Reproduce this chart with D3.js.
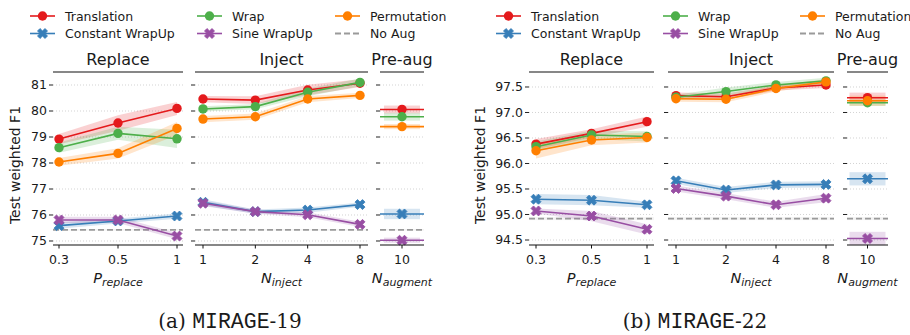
<!DOCTYPE html>
<html>
<head>
<meta charset="utf-8">
<script src="https://cdn.jsdelivr.net/npm/d3@7"></script>
<style>
  body { margin: 0; background: #fff; }
  svg text { font-family: "DejaVu Sans", sans-serif; fill: #1a1a1a; }
</style>
</head>
<body>
<svg id="chart" width="910" height="335"></svg>
<script>
// Categories
const replaceX = ['0.3', '0.5', '1'];
const injectX = ['1', '2', '4', '8'];
const augmentX = ['10'];

// Series (order used in every data array below)
const seriesNames = ['Translation', 'Wrap', 'Permutation', 'Constant WrapUp', 'Sine WrapUp'];
const seriesColors = ['#e41a1c', '#4daf4a', '#ff7f00', '#377eb8', '#984ea3'];
const seriesMarkers = ['o', 'o', 'o', 'X', 'X'];

// MIRAGE-19 : means and CI half-widths
const m19Replace = [
  [78.92, 79.54, 80.10],
  [78.59, 79.14, 78.93],
  [78.04, 78.37, 79.33],
  [75.59, 75.77, 75.96],
  [75.81, 75.81, 75.19]
];
const m19ReplaceCI = [
  [0.20, 0.30, 0.25],
  [0.20, 0.25, 0.35],
  [0.15, 0.20, 0.25],
  [0.12, 0.10, 0.10],
  [0.12, 0.12, 0.12]
];
const m19Inject = [
  [80.46, 80.42, 80.81, 81.07],
  [80.08, 80.17, 80.72, 81.10],
  [79.69, 79.78, 80.46, 80.60],
  [76.49, 76.13, 76.19, 76.40],
  [76.45, 76.13, 76.01, 75.64]
];
const m19InjectCI = [
  [0.12, 0.15, 0.20, 0.15],
  [0.10, 0.10, 0.15, 0.15],
  [0.12, 0.12, 0.12, 0.10],
  [0.12, 0.08, 0.10, 0.08],
  [0.10, 0.08, 0.10, 0.10]
];
const m19Augment = [[80.06], [79.78], [79.40], [76.04], [75.03]];
const m19AugmentCI = [[0.15], [0.15], [0.10], [0.20], [0.10]];
const m19NoAug = 75.43;
const m19Ticks = [75, 76, 77, 78, 79, 80, 81];

// MIRAGE-22 : means and CI half-widths
const m22Replace = [
  [96.38, 96.59, 96.82],
  [96.33, 96.56, 96.53],
  [96.25, 96.46, 96.51],
  [95.30, 95.28, 95.19],
  [95.07, 94.97, 94.71]
];
const m22ReplaceCI = [
  [0.10, 0.08, 0.10],
  [0.10, 0.08, 0.10],
  [0.15, 0.10, 0.10],
  [0.10, 0.10, 0.06],
  [0.05, 0.10, 0.10]
];
const m22Inject = [
  [97.33, 97.31, 97.48, 97.54],
  [97.30, 97.41, 97.54, 97.62],
  [97.27, 97.26, 97.47, 97.60],
  [95.66, 95.48, 95.58, 95.59],
  [95.51, 95.36, 95.19, 95.32]
];
const m22InjectCI = [
  [0.06, 0.06, 0.05, 0.06],
  [0.05, 0.08, 0.06, 0.06],
  [0.06, 0.06, 0.06, 0.05],
  [0.06, 0.06, 0.06, 0.06],
  [0.06, 0.06, 0.06, 0.08]
];
const m22Augment = [[97.29], [97.19], [97.23], [95.70], [94.53]];
const m22AugmentCI = [[0.10], [0.06], [0.10], [0.13], [0.13]];
const m22NoAug = 94.92;
const m22Ticks = [94.5, 95.0, 95.5, 96.0, 96.5, 97.0, 97.5];

const panelTitles = ['Replace', 'Inject', 'Pre-aug'];
const axisLabels = [['P', 'replace'], ['N', 'inject'], ['N', 'augment']];

const svg = d3.select('#chart');
const plotTop = 75, plotBottom = 245;

function drawMarker(g, kind, x, y, color) {
  if (kind === 'o') {
    g.append('circle').attr('cx', x).attr('cy', y).attr('r', 4.7).attr('fill', color);
  } else {
    g.append('path')
      .attr('d', d3.symbol(d3.symbolCross, 62)())
      .attr('transform', `translate(${x},${y}) rotate(45)`)
      .attr('fill', color)
      .attr('stroke', color)
      .attr('stroke-width', 0.8);
  }
}

function drawChart(cfg) {
  const g = svg.append('g');
  const y = d3.scaleLinear().domain(cfg.yDomain).range([plotBottom, plotTop]);

  const panels = [
    { cats: replaceX, mean: cfg.replace, ci: cfg.replaceCI, ext: cfg.panels[0] },
    { cats: injectX, mean: cfg.inject, ci: cfg.injectCI, ext: cfg.panels[1] },
    { cats: augmentX, mean: cfg.augment, ci: cfg.augmentCI, ext: cfg.panels[2] }
  ];

  panels.forEach((p, pi) => {
    const [x0, x1, pad] = p.ext;
    const single = p.cats.length === 1;
    const x = single
      ? d3.scalePoint().domain(p.cats).range([x0, x1]).padding(0.5)
      : d3.scalePoint().domain(p.cats).range([x0 + pad, x1 - pad]);

    // Gridlines + y ticks
    cfg.ticks.forEach(t => {
      g.append('line')
        .attr('x1', x0).attr('x2', x1).attr('y1', y(t)).attr('y2', y(t))
        .attr('stroke', '#c8c8c8').attr('stroke-width', 0.8).attr('stroke-dasharray', '1,2');
      g.append('line')
        .attr('x1', x0 - 4).attr('x2', x0).attr('y1', y(t)).attr('y2', y(t))
        .attr('stroke', '#222').attr('stroke-width', 1);
      if (pi === 0) {
        g.append('text')
          .attr('x', x0 - 6).attr('y', y(t)).attr('dy', '0.35em')
          .attr('text-anchor', 'end').attr('font-size', 12.5)
          .text(cfg.fmt(t));
      }
    });

    // No Aug reference
    g.append('rect')
      .attr('x', x0).attr('width', x1 - x0)
      .attr('y', y(cfg.noAug + 0.03)).attr('height', y(cfg.noAug - 0.03) - y(cfg.noAug + 0.03))
      .attr('fill', '#999').attr('opacity', 0.12);
    g.append('line')
      .attr('x1', x0).attr('x2', x1).attr('y1', y(cfg.noAug)).attr('y2', y(cfg.noAug))
      .attr('stroke', '#9a9a9a').attr('stroke-width', 1.8).attr('stroke-dasharray', '6,3');

    // Bands
    p.mean.forEach((vals, si) => {
      const color = seriesColors[si];
      if (single) {
        const cx = x(p.cats[0]);
        g.append('rect')
          .attr('x', cx - 18).attr('width', 36)
          .attr('y', y(vals[0] + p.ci[si][0]))
          .attr('height', y(vals[0] - p.ci[si][0]) - y(vals[0] + p.ci[si][0]))
          .attr('fill', color).attr('opacity', 0.2);
      } else {
        const pts = vals.map((v, i) => ({ x: x(p.cats[i]), lo: v - p.ci[si][i], hi: v + p.ci[si][i] }));
        g.append('path')
          .attr('d', d3.area().x(d => d.x).y0(d => y(d.lo)).y1(d => y(d.hi))(pts))
          .attr('fill', color).attr('opacity', 0.2);
      }
    });

    // Lines and markers
    p.mean.forEach((vals, si) => {
      const color = seriesColors[si];
      if (single) {
        g.append('line')
          .attr('x1', x0).attr('x2', x1).attr('y1', y(vals[0])).attr('y2', y(vals[0]))
          .attr('stroke', color).attr('stroke-width', 1.6);
      } else {
        const pts = vals.map((v, i) => [x(p.cats[i]), y(v)]);
        g.append('path')
          .attr('d', d3.line()(pts))
          .attr('fill', 'none').attr('stroke', color).attr('stroke-width', 1.6);
      }
      vals.forEach((v, i) => drawMarker(g, seriesMarkers[si], x(p.cats[i]), y(v), color));
    });

    // X axis
    g.append('line')
      .attr('x1', x0).attr('x2', x1).attr('y1', plotBottom).attr('y2', plotBottom)
      .attr('stroke', '#111').attr('stroke-width', 1.2);
    p.cats.forEach(c => {
      g.append('line')
        .attr('x1', x(c)).attr('x2', x(c)).attr('y1', plotBottom).attr('y2', plotBottom + 3.5)
        .attr('stroke', '#111').attr('stroke-width', 1);
      g.append('text')
        .attr('x', x(c)).attr('y', 264).attr('text-anchor', 'middle').attr('font-size', 12.5)
        .text(c);
    });
    const lab = g.append('text')
      .attr('x', (x0 + x1) / 2).attr('y', 283).attr('text-anchor', 'middle')
      .attr('font-style', 'italic');
    lab.append('tspan').attr('font-size', 14.5).text(axisLabels[pi][0]);
    lab.append('tspan').attr('font-size', 11).attr('dy', 3).text(axisLabels[pi][1]);

    // Panel title
    g.append('text')
      .attr('x', (x0 + x1) / 2).attr('y', 65).attr('text-anchor', 'middle').attr('font-size', 16)
      .text(panelTitles[pi]);
    g.append('line')
      .attr('x1', x0).attr('x2', x1).attr('y1', 72).attr('y2', 72)
      .attr('stroke', '#111').attr('stroke-width', 1.2);
  });

  // Y label
  g.append('text')
    .attr('transform', `translate(${cfg.ylabelX},${(plotTop + plotBottom) / 2 + 5}) rotate(-90)`)
    .attr('text-anchor', 'middle').attr('font-size', 14)
    .text('Test weighted F1');

  // Legend
  const legendItems = [
    { name: 'Translation', si: 0 }, { name: 'Constant WrapUp', si: 3 },
    { name: 'Wrap', si: 1 }, { name: 'Sine WrapUp', si: 4 },
    { name: 'Permutation', si: 2 }, { name: 'No Aug', si: -1 }
  ];
  legendItems.forEach((it, i) => {
    const lx = cfg.legendX[Math.floor(i / 2)];
    const ly = i % 2 === 0 ? 16 : 33.5;
    if (it.si < 0) {
      g.append('line')
        .attr('x1', lx).attr('x2', lx + 25).attr('y1', ly).attr('y2', ly)
        .attr('stroke', '#9a9a9a').attr('stroke-width', 1.8).attr('stroke-dasharray', '6,3');
    } else {
      const color = seriesColors[it.si];
      g.append('line')
        .attr('x1', lx).attr('x2', lx + 25).attr('y1', ly).attr('y2', ly)
        .attr('stroke', color).attr('stroke-width', 1.6);
      drawMarker(g, seriesMarkers[it.si], lx + 12.5, ly, color);
    }
    g.append('text')
      .attr('x', lx + 35).attr('y', ly + 4.5).attr('font-size', 12.5)
      .text(it.name);
  });

  // Caption
  const cap = g.append('text')
    .attr('x', cfg.captionX).attr('y', 328).attr('text-anchor', 'middle')
    .attr('font-size', 20);
  cap.append('tspan').style('font-family', '"DejaVu Serif", serif').text(cfg.caption[0] + ' ');
  cap.append('tspan').style('font-family', '"Liberation Mono", monospace').attr('font-size', 21.5).text('MIRAGE');
  cap.append('tspan').style('font-family', '"DejaVu Serif", serif').text(cfg.caption[1]);
}

drawChart({
  replace: m19Replace, replaceCI: m19ReplaceCI,
  inject: m19Inject, injectCI: m19InjectCI,
  augment: m19Augment, augmentCI: m19AugmentCI,
  noAug: m19NoAug, ticks: m19Ticks, fmt: d3.format('d'),
  yDomain: [74.846, 81.385],
  panels: [[53, 183, 6], [195, 368, 8], [380, 424]],
  ylabelX: 20, legendX: [30, 197, 335], captionX: 230,
  caption: ['(a)', '-19']
});

drawChart({
  replace: m22Replace, replaceCI: m22ReplaceCI,
  inject: m22Inject, injectCI: m22InjectCI,
  augment: m22Augment, augmentCI: m22AugmentCI,
  noAug: m22NoAug, ticks: m22Ticks, fmt: d3.format('.1f'),
  yDomain: [94.402, 97.735],
  panels: [[529, 654, 7], [668, 834, 8], [847, 888]],
  ylabelX: 485, legendX: [496, 663, 800], captionX: 695,
  caption: ['(b)', '-22']
});
</script>
</body>
</html>
